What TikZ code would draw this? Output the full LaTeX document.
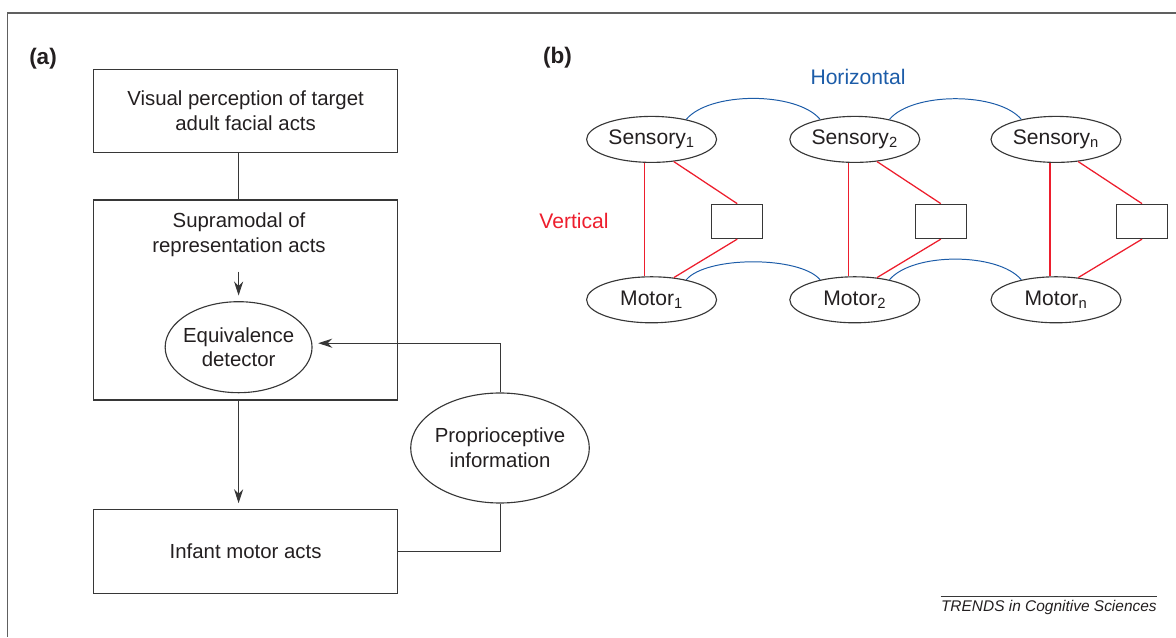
\documentclass[tikz,border=0pt]{standalone}
\usepackage{fontspec}
\setmainfont{Liberation Sans}
\usetikzlibrary{arrows.meta, positioning, shapes.geometric}
\definecolor{hzblue}{RGB}{28,92,168}
\definecolor{vtred}{RGB}{237,30,45}
\definecolor{lngray}{RGB}{55,55,55}
\definecolor{txdark}{RGB}{35,31,32}

\begin{document}
\begin{tikzpicture}[every node/.style={font=\fontsize{14.5}{17.7}\selectfont, text=txdark},
  abox/.style={draw=lngray, line width=0.8pt, minimum width=7.6cm, align=center},
  aoval/.style={draw=lngray, line width=0.8pt, ellipse, align=center},
  sens/.style={draw=lngray, line width=0.8pt, ellipse, minimum width=3.25cm,
               minimum height=1.15cm, inner sep=0pt, font=\fontsize{15}{18}\selectfont},
  cell/.style={draw=lngray, line width=0.8pt, minimum width=1.27cm, minimum height=0.86cm},
  flow/.style={-{Stealth[length=10pt, width=6.5pt]}, lngray, line width=0.7pt, shorten >=4pt},
  vlink/.style={vtred, line width=0.9pt},
  hlink/.style={hzblue, line width=0.7pt}]
  \useasboundingbox (0,0) rectangle (29.4,15.925);

  % frame, open to the right and below
  \draw[gray!75!black, line width=1pt] (29.4,15.6) -- (0.19,15.6) -- (0.19,0);

  % PANEL (a): imitation loop
  \node[font=\fontsize{16}{19}\bfseries] (pa) at (1.075,14.45) {(a)};
  \node[abox, minimum height=2.08cm] (vis) at (6.14,13.15) {Visual perception of target\\adult facial acts};
  \node[abox, minimum height=5.0cm] (supbox) at (6.13,8.425) {};
  \node[align=center] (sup) at (5.975,10.06) {Supramodal of\\representation acts};
  \node[aoval, minimum height=2.275cm, inner xsep=-0.9mm] (eqv) at (5.965,7.245) {Equivalence\\detector};
  \node[abox, minimum height=2.1cm] (inf) at (6.14,2.14) {Infant motor acts};
  \node[aoval, minimum height=2.75cm, inner xsep=-0.5mm] (prop) at (12.5,4.725) {Proprioceptive\\information};

  \draw[lngray, line width=0.7pt] (vis.south -| eqv) -- (supbox.north -| eqv);
  \draw[flow, shorten <=2.5mm] (sup.south -| eqv) -- (eqv.north);
  \draw[flow] (supbox.south -| eqv) -- (inf.north -| eqv);
  \draw[lngray, line width=0.7pt] (inf.east) -| (prop.south);
  \draw[flow] (prop.north) |- ([yshift=1mm]eqv.east);

  % PANEL (b): sensory / motor links
  \node[font=\fontsize{16}{19}\bfseries] (pb) at (13.94,14.49) {(b)};
  \node[font=\fontsize{15}{18}\selectfont, text=hzblue] (hz) at (21.45,14.0) {Horizontal};
  \node[font=\fontsize{15}{18}\selectfont, text=vtred] (vt) at (14.35,10.4) {Vertical};

  \node[sens] (s1) at (16.29,12.44) {Sensory\textsubscript{1}};
  \node[sens] (s2) at (21.37,12.44) {Sensory\textsubscript{2}};
  \node[sens] (sn) at (26.40,12.44) {Sensory\textsubscript{n}};

  \node[sens] (m1) at (16.29,8.43) {Motor\textsubscript{1}};
  \node[sens] (m2) at (21.37,8.43) {Motor\textsubscript{2}};
  \node[sens] (mn) at (26.40,8.43) {Motor\textsubscript{n}};

  \node[cell] (c1) at (18.43,10.39) {};
  \node[cell] (c2) at (23.52,10.39) {};
  \node[cell] (cn) at (28.55,10.39) {};

  % vertical (red)
  \draw[vlink] ([xshift=-1.7mm]s1.south) -- ([xshift=-1.7mm]m1.north);
  \draw[vlink] ([xshift=-1.5mm]s2.south) -- ([xshift=-1.5mm]m2.north);
  \draw[vlink] ([xshift=-1.5mm]sn.south) -- ([xshift=-1.5mm]mn.north);
  \draw[vlink] (s1.-45) -- (c1.north);
  \draw[vlink] (c1.south) -- (m1.45);
  \draw[vlink] (s2.-45) -- (c2.north);
  \draw[vlink] (c2.south) -- (m2.45);
  \draw[vlink] (sn.-45) -- (cn.north);
  \draw[vlink] (cn.south) -- (mn.45);

  % horizontal (blue)
  \draw[hlink] (s1.30) to[out=50, in=130, looseness=0.7] (s2.150);
  \draw[hlink] (s2.30) to[out=50, in=130, looseness=0.7] (sn.150);
  \draw[hlink] (m1.30) to[out=50, in=130, looseness=0.6] (m2.150);
  \draw[hlink] (m2.30) to[out=50, in=130, looseness=0.7] (mn.150);

  % source line
  \node[font=\fontsize{11}{13}\itshape, inner xsep=0pt, inner ysep=1mm, anchor=north east] (src) at (28.925,1.025) {TRENDS in Cognitive Sciences};
  \draw[lngray, line width=0.5pt] (src.north west) -- (src.north east);
\end{tikzpicture}
\end{document}
